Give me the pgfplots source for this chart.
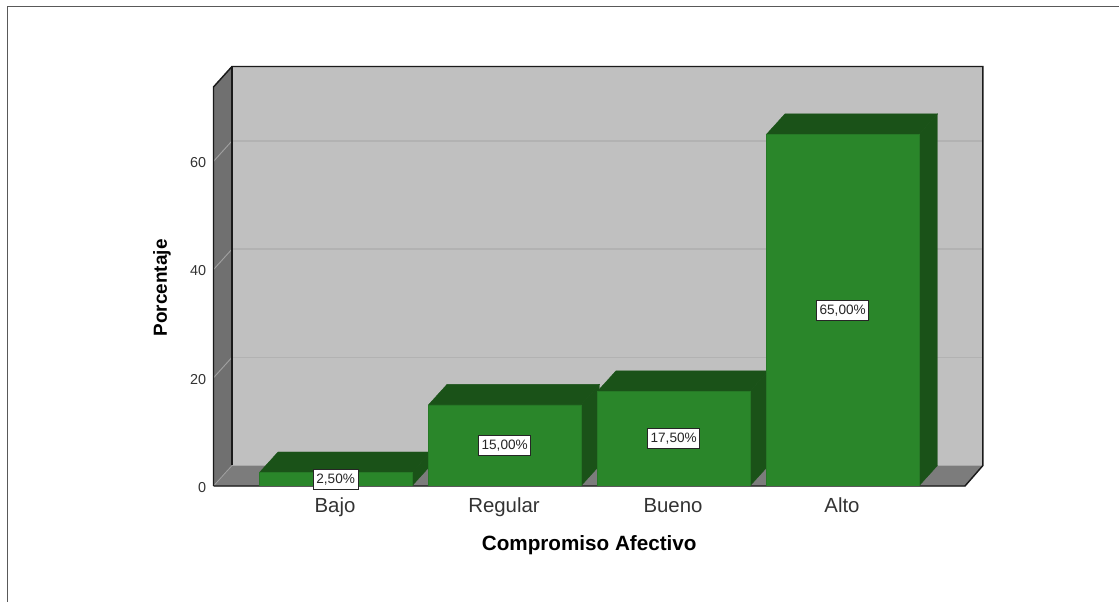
\documentclass[border=0pt]{standalone}
\usepackage{pgfplots}
\usepackage{pgfplotstable}
\usepackage{fontspec}
\setmainfont{Liberation Sans}
\pgfplotsset{compat=1.18}
\definecolor{backwall}{HTML}{C0C0C0}
\definecolor{sidewall}{HTML}{707070}
\definecolor{floorcol}{HTML}{7C7C7C}
\definecolor{gridcol}{HTML}{B2B2B2}
\definecolor{sidegrid}{HTML}{A0A0A0}
\definecolor{barfront}{HTML}{2A862A}
\definecolor{bardark}{HTML}{1A5218}
\definecolor{edgecol}{HTML}{1A1A1A}

\pgfplotstableread{
pos val mid label
0 2.5  1.25  2,50
1 15   7.5   15,00
2 17.5 8.75  17,50
3 65   32.5  65,00
}\datos

\begin{document}
\begin{tikzpicture}
\path[use as bounding box] (0,0) rectangle (839.25pt,451.5pt);
% marco de la imagen
\draw[draw=black!65, line width=1pt] (5.6pt,0) -- (5.6pt,446.8pt) -- (839.25pt,446.8pt);
\begin{axis}[
    at={(160.125pt,87pt)}, anchor=south west,
    scale only axis,
    width=563.625pt, height=299.25pt,
    xmin=-0.723, xmax=3.724,
    ymin=0, ymax=73.75,
    clip=false,
    axis line style={draw=none},
    major tick length=0pt,
    minor tick num=0,
    xtick={0,1,2,3},
    xticklabels={Bajo,Regular,Bueno,Alto},
    ytick={0,20,40,60},
    tick label style={text=black!80},
    /pgf/number format/assume math mode=true,
    typeset ticklabels with strut,
    xticklabel style={font=\fontsize{15.3}{17}\selectfont, yshift=-4.5pt, xshift=-0.5pt},
    yticklabel style={font=\fontsize{10.8}{13}\selectfont, xshift=-2pt, yshift=-2.2pt},
    xlabel={\textbf{Compromiso Afectivo}},
    ylabel={\textbf{Porcentaje}},
    xlabel style={font=\fontsize{15.5}{17}\selectfont, yshift=-5.3pt},
    ylabel style={font=\fontsize{14.2}{16}\selectfont, yshift=7.7pt, xshift=-1pt},
]
% paredes
\addplot[fill=backwall, draw=none] coordinates {(-0.6135,3.79) (3.83,3.79) (3.83,77.54) (-0.6135,77.54)} -- cycle;
\addplot[fill=sidewall, draw=none] coordinates {(-0.723,0) (-0.6135,3.79) (-0.6135,77.54) (-0.723,73.75)} -- cycle;
\addplot[fill=floorcol, draw=none] coordinates {(-0.723,0) (3.724,0) (3.83,3.79) (-0.6135,3.79)} -- cycle;
% rejilla
\addplot[gridcol, line width=1pt] coordinates {(-0.6135,23.79) (3.83,23.79)};
\addplot[gridcol, line width=1pt] coordinates {(-0.6135,43.79) (3.83,43.79)};
\addplot[gridcol, line width=1pt] coordinates {(-0.6135,63.79) (3.83,63.79)};
\addplot[sidegrid, line width=0.7pt] coordinates {(-0.723,20) (-0.6135,23.79)};
\addplot[sidegrid, line width=0.7pt] coordinates {(-0.723,40) (-0.6135,43.79)};
\addplot[sidegrid, line width=0.7pt] coordinates {(-0.723,60) (-0.6135,63.79)};
\addplot[sidegrid, line width=0.6pt] coordinates {(-0.723,0) (-0.6135,3.79)};
% bordes
\addplot[edgecol, line width=1.1pt] coordinates {(-0.723,0) (-0.723,73.75) (-0.6135,77.54) (3.83,77.54) (3.83,3.79) (3.724,0) (-0.723,0)};
\addplot[edgecol, line width=1pt] coordinates {(-0.6135,3.79) (-0.6135,77.54)};
% caras superiores y laterales
\addplot[fill=bardark, draw=bardark, line width=0.3pt] coordinates {(-0.451,2.5) (0.451,2.5) (0.561,6.29) (-0.341,6.29)} -- cycle;
\addplot[fill=bardark, draw=bardark, line width=0.3pt] coordinates {(0.451,0) (0.561,3.79) (0.561,6.29) (0.451,2.5)} -- cycle;
\addplot[fill=bardark, draw=bardark, line width=0.3pt] coordinates {(0.549,15) (1.451,15) (1.561,18.79) (0.659,18.79)} -- cycle;
\addplot[fill=bardark, draw=bardark, line width=0.3pt] coordinates {(1.451,0) (1.561,3.79) (1.561,18.79) (1.451,15)} -- cycle;
\addplot[fill=bardark, draw=bardark, line width=0.3pt] coordinates {(1.549,17.5) (2.451,17.5) (2.561,21.29) (1.659,21.29)} -- cycle;
\addplot[fill=bardark, draw=bardark, line width=0.3pt] coordinates {(2.451,0) (2.561,3.79) (2.561,21.29) (2.451,17.5)} -- cycle;
\addplot[fill=bardark, draw=bardark, line width=0.3pt] coordinates {(2.549,65) (3.451,65) (3.561,68.79) (2.659,68.79)} -- cycle;
\addplot[fill=bardark, draw=bardark, line width=0.3pt] coordinates {(3.451,0) (3.561,3.79) (3.561,68.79) (3.451,65)} -- cycle;
% caras frontales
\addplot[ybar, bar width=114.375pt, fill=barfront, draw=barfront!75!bardark, line width=0.3pt] table[x=pos, y=val] {\datos};
\addplot[black!65, line width=0.9pt] coordinates {(-0.723,-0.12) (3.724,-0.12)};
% etiquetas
\addplot[draw=none, mark=none,
    point meta=explicit symbolic,
    nodes near coords={\pgfplotspointmeta\%},
    nodes near coords align=center,
    every node near coord/.append style={
        font=\fontsize{10.2}{12}\selectfont, text=black!85,
        fill=white, draw=black!85, line width=0.7pt,
        inner xsep=2.3pt, inner ysep=0pt, minimum height=15pt, anchor=center}
] table[x=pos, y=mid, meta=label] {\datos};
\end{axis}
\end{tikzpicture}
\end{document}
